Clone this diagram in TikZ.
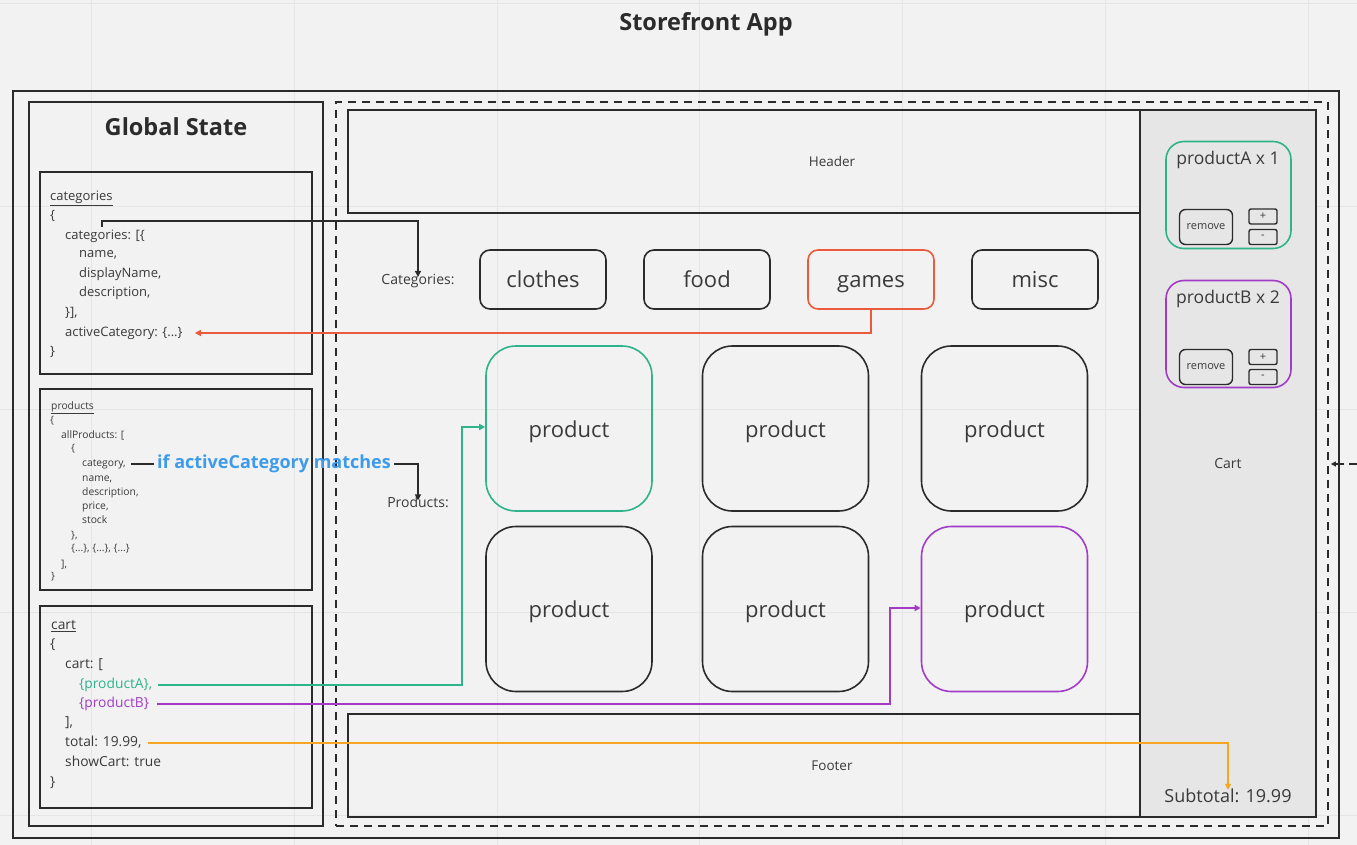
\documentclass[tikz,border=0pt]{standalone}
\usepackage{fontspec}
\setmainfont{Open Sans}
\usetikzlibrary{arrows.meta}
\definecolor{bg}{HTML}{F2F2F2}
\definecolor{gridc}{HTML}{E5E5E5}
\definecolor{panel}{HTML}{E6E6E6}
\definecolor{ink}{HTML}{2B2B2B}
\definecolor{txt}{HTML}{3A3A3A}
\definecolor{tealc}{HTML}{2EB38A}
\definecolor{purp}{HTML}{A23BC8}
\definecolor{redc}{HTML}{EC5A3C}
\definecolor{orng}{HTML}{F5A623}
\definecolor{bluec}{HTML}{3D9BEA}
\begin{document}
\begin{tikzpicture}[x=1pt,y=-1pt,
  frame/.style={draw=ink,line width=1.8pt,inner sep=0,text=txt},
  catbtn/.style={draw=ink,line width=1.6pt,rounded corners=10pt,minimum width=126,minimum height=59,inner sep=0,text=txt,font=\fontsize{22}{26}\selectfont,text height=16.5pt,text depth=0pt},
  prodbtn/.style={draw=ink,line width=1.6pt,rounded corners=30pt,minimum width=166,minimum height=165,inner sep=0,text=txt,font=\fontsize{22}{26}\selectfont,text height=17pt,text depth=0pt},
  itembox/.style={line width=1.6pt,rounded corners=18pt,minimum width=125,minimum height=107,inner sep=0},
  smallbtn/.style={draw=ink,line width=1.4pt,rounded corners=2pt,minimum width=28,minimum height=15,inner sep=0,text=txt,font=\fontsize{11}{13}\selectfont},
  rmbtn/.style={draw=ink,line width=1.4pt,rounded corners=6pt,minimum width=53,minimum height=35,inner sep=0,text=txt,font=\fontsize{11}{13}\selectfont},
  code/.style={font=\fontsize{13}{15}\selectfont,text=txt,inner sep=0,anchor=west,text height=9.5pt,text depth=3pt},
  ccode/.style={font=\fontsize{13.8}{16}\selectfont,text=txt,inner sep=0,anchor=west,text height=10pt,text depth=3.2pt},
  scode/.style={font=\fontsize{10.3}{12}\selectfont,text=txt,inner sep=0,anchor=west,text height=7.5pt,text depth=2.4pt},
  lbl/.style={text=txt,inner sep=1pt},
  conn/.style={draw=ink,line width=1.6pt},
  tip/.style={-{Triangle[length=6pt,width=6pt]}},
]
% background and faint grid
\fill[bg] (0,0) rectangle (1357,845);
\useasboundingbox (0,0) rectangle (1357,845);
\foreach \gx in {91,294,497,699,902,1105,1308} \draw[gridc,line width=0.8pt] (\gx,0) -- (\gx,845);
\foreach \gy in {3,206,409,612,815} \draw[gridc,line width=0.8pt] (0,\gy) -- (1357,\gy);

% title
\node[font=\bfseries\fontsize{23.5}{28}\selectfont,text=ink] (title) at (706,24) {Storefront App};

% main frames
\node[frame,minimum width=1326,minimum height=747] (outer) at (676,464.5) {};
\node[frame,minimum width=294,minimum height=724] (global) at (176,464) {};
\node[font=\bfseries\fontsize{23.5}{28}\selectfont,text=ink] (gtitle) at (176,127) {Global State};
\node[frame,minimum width=272,minimum height=202] (catstate) at (176,273) {};
\node[frame,minimum width=272,minimum height=201] (prodstate) at (176,489.5) {};
\node[frame,minimum width=272,minimum height=202] (cartstate) at (176,707) {};
\node[draw=ink,line width=1.8pt,dash pattern=on 8pt off 6pt,minimum width=992,minimum height=724,inner sep=0] (app) at (832,464) {};

% header / footer / cart panel
\node[frame,minimum width=968,minimum height=103,font=\fontsize{13.5}{16}\selectfont] (header) at (832,161.5) {Header};
\node[frame,minimum width=968,minimum height=103,font=\fontsize{13.5}{16}\selectfont] (footer) at (832,765.5) {Footer};
\node[frame,fill=panel,minimum width=176,minimum height=707,font=\fontsize{14}{16}\selectfont] (cartpanel) at (1228,463.5) {Cart};

% cart items
\node[itembox,draw=tealc] (itemA) at (1228.5,195) {};
\node[text=txt,font=\fontsize{17.5}{20}\selectfont,inner sep=0] (itemAtxt) at (1228,160) {productA x 1};
\node[rmbtn] (rmA) at (1206,227) {remove};
\node[smallbtn] (plusA) at (1263,216.5) {+};
\node[smallbtn] (minusA) at (1263,237) {-};

\node[itembox,draw=purp] (itemB) at (1228.5,334) {};
\node[text=txt,font=\fontsize{17.5}{20}\selectfont,inner sep=0] (itemBtxt) at (1228,299) {productB x 2};
\node[rmbtn] (rmB) at (1206,367) {remove};
\node[smallbtn] (plusB) at (1263,357) {+};
\node[smallbtn] (minusB) at (1263,377) {-};

\node[text=txt,font=\fontsize{18}{21}\selectfont,inner sep=0] (subtotal) at (1228,796) {Subtotal: 19.99};

% categories row
\node[lbl,font=\fontsize{14}{16}\selectfont] (catlabel) at (418,281) {Categories:};
\node[catbtn] (clothes) at (543,279.5) {clothes};
\node[catbtn] (food) at (707,279.5) {food};
\node[catbtn,draw=redc] (games) at (871,279.5) {games};
\node[catbtn] (misc) at (1035,279.5) {misc};

% products grid
\node[lbl,font=\fontsize{14}{16}\selectfont] (prodlabel) at (418,502) {Products:};
\node[prodbtn,draw=tealc] (p11) at (569,428.5) {product};
\node[prodbtn] (p12) at (785.5,428.5) {product};
\node[prodbtn] (p13) at (1004.5,428.5) {product};
\node[prodbtn] (p21) at (569,609) {product};
\node[prodbtn] (p22) at (785.5,609) {product};
\node[prodbtn,draw=purp] (p23) at (1004.5,609) {product};

% categories state code
\node[code] (c0) at (50,197) {\underline{categories}};
\node[code] (c1) at (50,216) {\{};
\node[code] (c2) at (65,236) {categories: [\{};
\node[code] (c3) at (79,254) {name,};
\node[code] (c4) at (79,274) {displayName,};
\node[code] (c5) at (79,293) {description,};
\node[code] (c6) at (65,313) {\}],};
\node[code] (actcat) at (65,333) {activeCategory: \{...\}};
\node[code] (c8) at (50,352) {\}};
\coordinate (catsrc) at (102,227);

% products state code
\node[scode] (s0) at (51,407) {\underline{products}};
\node[scode] (s1) at (50,421) {\{};
\node[scode] (s2) at (61,436) {allProducts: [};
\node[scode] (s3) at (71,449) {\{};
\node[scode] (catg) at (82,464) {category,};
\node[scode] (s5) at (82,479) {name,};
\node[scode] (s6) at (82,493) {description,};
\node[scode] (s7) at (82,507) {price,};
\node[scode] (s8) at (82,521) {stock};
\node[scode] (s9) at (71,536) {\},};
\node[scode] (s10) at (71,549) {\{...\}, \{...\}, \{...\}};
\node[scode] (s11) at (61,565) {],};
\node[scode] (s12) at (51,577) {\}};

% cart state code
\node[ccode] (k0) at (51,626) {\underline{cart}};
\node[ccode] (k1) at (50,645) {\{};
\node[ccode] (k2) at (65,665) {cart: [};
\node[ccode,text=tealc] (pA) at (79,685) {\{productA\},};
\node[ccode,text=purp] (pB) at (79,704) {\{productB\}};
\node[ccode] (k5) at (65,723) {],};
\node[ccode] (total) at (65,743) {total: 19.99,};
\node[ccode] (k7) at (65,763) {showCart: true};
\node[ccode] (k8) at (50,783) {\}};

% connectors
\draw[conn,tip] (catsrc) -- ++(0,-6) -| ([yshift=-4pt]catlabel.north);
\draw[conn,draw=redc,tip] (games.south) |- ([xshift=12pt]actcat.east);
\node[font=\bfseries\fontsize{18}{21}\selectfont,text=bluec,inner xsep=3pt,inner ysep=0] (ifmatch) at (274,464) {if activeCategory matches};
\draw[conn] ([xshift=5pt]catg.east) -- (ifmatch.west);
\draw[conn,tip] (ifmatch.east) -| ([yshift=-5pt]prodlabel.north);
\draw[conn,draw=tealc,tip] ([xshift=6pt]pA.east) -| ([xshift=-23pt,yshift=1.5pt]p11.west) -- ([yshift=1.5pt]p11.west);
\draw[conn,draw=purp,tip] ([xshift=8pt]pB.east) -| ([xshift=-31pt,yshift=1pt]p23.west) -- ([yshift=1pt]p23.west);
\draw[conn,draw=orng,tip] ([xshift=6pt]total.east) -| ([yshift=-1pt]subtotal.north);
\coordinate (offright) at (1357,464);
\draw[draw=ink,line width=1.3pt,dash pattern=on 8pt off 5pt,-{Triangle[length=5pt,width=5pt]}] (offright) -- ([xshift=2pt]app.east |- offright);
\end{tikzpicture}
\end{document}
